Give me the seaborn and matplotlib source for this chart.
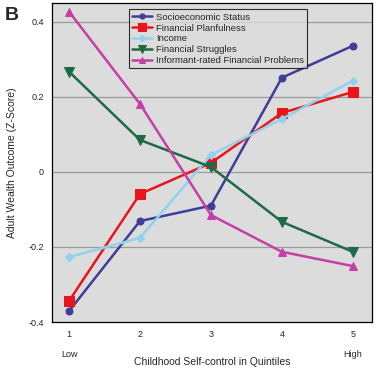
import matplotlib
matplotlib.use("Agg")
import matplotlib.pyplot as plt
import seaborn as sns
import pandas as pd

# -----------------------------
# Data
# -----------------------------
quintiles = [1, 2, 3, 4, 5]
ses = [-0.371, -0.131, -0.090, 0.251, 0.336]
planfulness = [-0.344, -0.059, 0.024, 0.157, 0.213]
income = [-0.227, -0.176, 0.045, 0.141, 0.243]
struggles = [0.267, 0.085, 0.013, -0.133, -0.213]
informant = [0.427, 0.181, -0.115, -0.213, -0.251]

names = ["Socioeconomic Status", "Financial Planfulness", "Income",
         "Financial Struggles", "Informant-rated Financial Problems"]
series = [ses, planfulness, income, struggles, informant]

rows = []
for n, vals in zip(names, series):
    for q, v in zip(quintiles, vals):
        rows.append({"Quintile": q, "Outcome": n, "Z": v})
df = pd.DataFrame(rows)

colors = ["#3d3d9a", "#e8161c", "#8fd3ec", "#1e6a47", "#c43fa6"]
markers = ["o", "s", "D", "v", "^"]
msizes = [5, 7, 4, 7, 6]

# -----------------------------
# Plot
# -----------------------------
sns.set_style("white")
plt.rcParams['font.family'] = ['Liberation Sans', 'DejaVu Sans']

fig = plt.figure(figsize=(3.76, 3.69), dpi=100)
ax = fig.add_axes([52/376, 47/369, 320/376, 319/369])
ax.set_facecolor("#dcdcdc")

for n, c, m, ms in zip(names, colors, markers, msizes):
    sub = df[df["Outcome"] == n]
    sns.lineplot(data=sub, x="Quintile", y="Z", ax=ax, color=c, marker=m,
                 markersize=ms, markeredgecolor=c, linewidth=1.8, label=n)

ax.set_xlim(0.76, 5.27)
ax.set_ylim(-0.4, 0.45)
ax.set_yticks([-0.4, -0.2, 0, 0.2, 0.4])
ax.set_yticklabels(["-0.4", "-0.2", "0", "0.2", "0.4"], fontsize=6.5)
for yv in [-0.2, 0, 0.2, 0.4]:
    ax.axhline(yv, color="#9a9a9a", linewidth=0.9, zorder=0)
ax.set_xticks(quintiles)
ax.set_xticklabels(["1\n\nLow", "2", "3", "4", "5\n\nHigh"], fontsize=6.5,
                   va="top", linespacing=1.1)
ax.tick_params(axis="both", length=0, pad=6)
ax.set_xlabel("Childhood Self-control in Quintiles", fontsize=7.5, labelpad=-1)
ax.set_ylabel("Adult Wealth Outcome (Z-Score)", fontsize=7.5, labelpad=8)

for s in ax.spines.values():
    s.set_color("black")
    s.set_linewidth(0.9)

leg = ax.legend(loc="upper left", bbox_to_anchor=(0.225, 0.995), fontsize=6.8,
                frameon=True, fancybox=False, facecolor="#dcdcdc",
                edgecolor="black", handlelength=2.1, borderpad=0.35,
                labelspacing=0.2, handletextpad=0.4, markerscale=0.75)
leg.get_frame().set_linewidth(0.8)

fig.text(5/376, 1 - 20/369, "B", fontsize=14, fontweight="bold")

fig.savefig("out.png", dpi=100)
